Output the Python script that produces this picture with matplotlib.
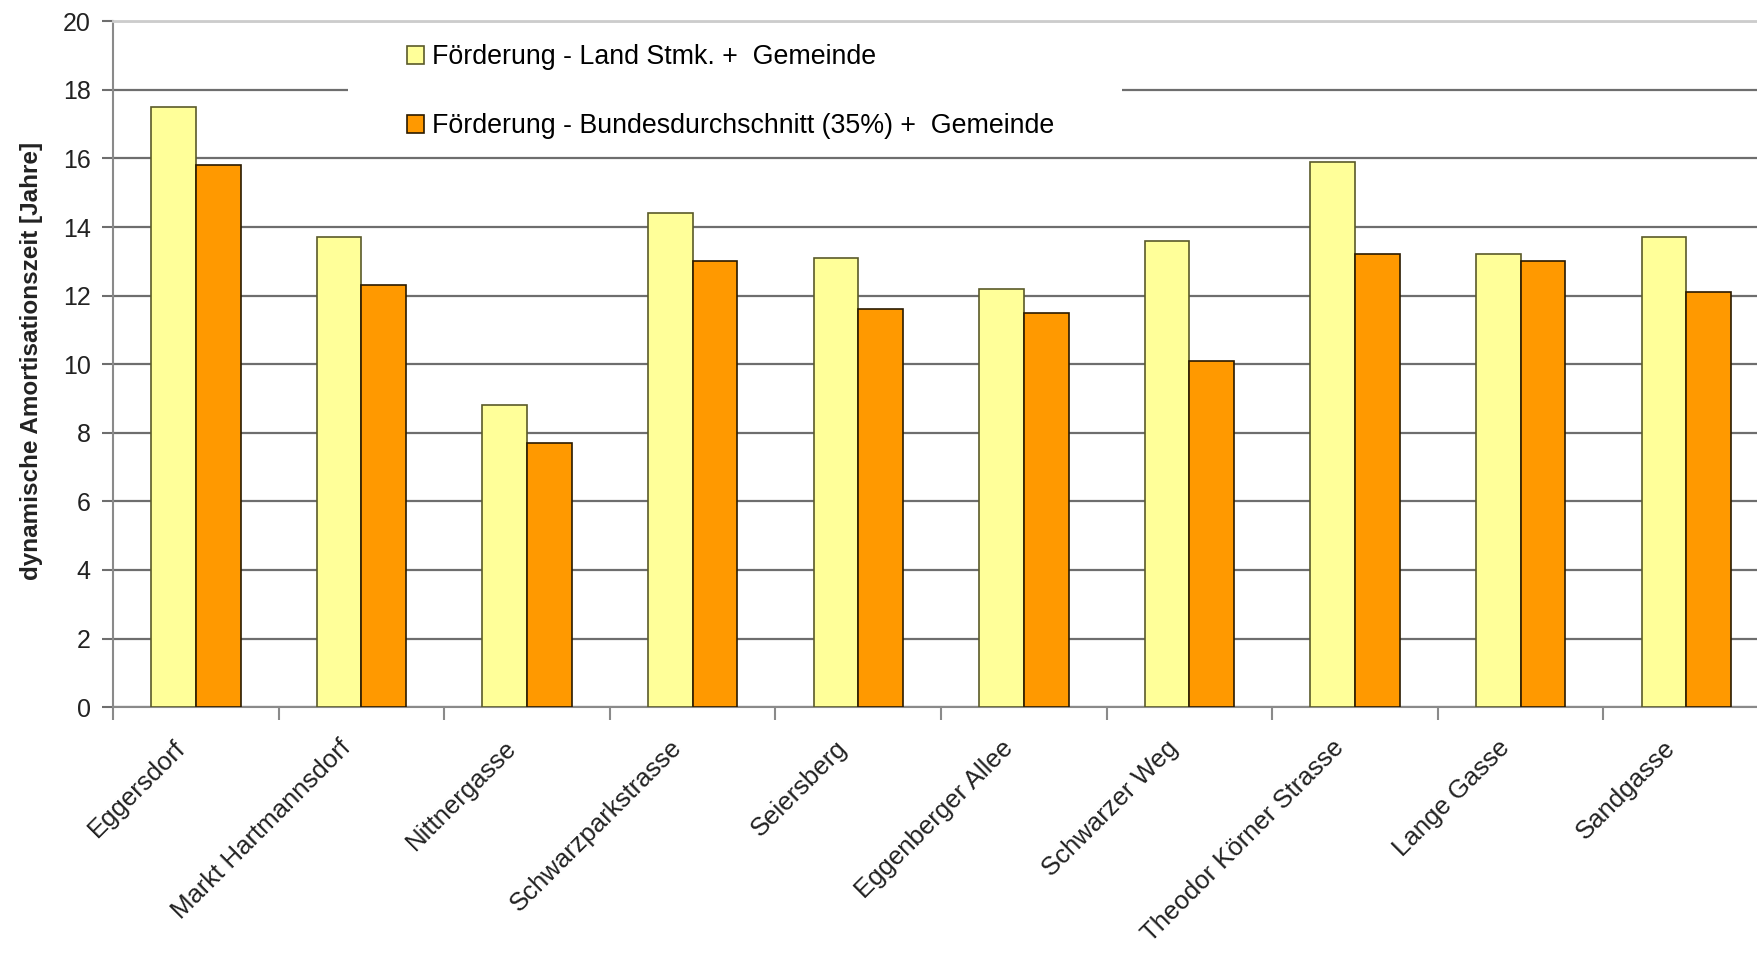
import numpy as np
import matplotlib
matplotlib.use("Agg")
import matplotlib.pyplot as plt
import matplotlib.transforms as mtransforms
from matplotlib.patches import Rectangle

plt.rcParams["font.family"] = ["Liberation Sans", "DejaVu Sans"]

standorte = [
    "Eggersdorf", "Markt Hartmannsdorf", "Nittnergasse", "Schwarzparkstrasse",
    "Seiersberg", "Eggenberger Allee", "Schwarzer Weg", "Theodor Körner Strasse",
    "Lange Gasse", "Sandgasse",
]
land_stmk = [17.5, 13.7, 8.8, 14.4, 13.1, 12.2, 13.6, 15.9, 13.2, 13.7]
bund_35 = [15.8, 12.3, 7.7, 13.0, 11.6, 11.5, 10.1, 13.2, 13.0, 12.1]

label_land = "Förderung - Land Stmk. +  Gemeinde"
label_bund = "Förderung - Bundesdurchschnitt (35%) +  Gemeinde"

fig = plt.figure(figsize=(17.58, 9.66), dpi=100)
ax = fig.add_axes([0.0643, 0.268, 0.942, 0.71])

x = np.arange(len(standorte))
w = 0.27
ax.bar(x - w / 2, land_stmk, w, color="#FFFF99", edgecolor="#5a5a2a",
       linewidth=1.2, label=label_land, zorder=3)
ax.bar(x + w / 2, bund_35, w, color="#FF9900", edgecolor="#2a1a00",
       linewidth=1.2, label=label_bund, zorder=3)

ax.set_xlim(-0.5, len(standorte) - 0.5)
ax.set_ylim(0, 20)
ax.set_yticks(np.arange(0, 21, 2))
ax.yaxis.grid(True, color="#6e6e6e", linewidth=1.6, zorder=0)
ax.set_axisbelow(True)

# category labels centred, tick marks on the category boundaries
ax.set_xticks(x)
ax.set_xticklabels(standorte, rotation=45, ha="right", va="top",
                   rotation_mode="anchor", fontsize=18.5, color="#222222")
ax.tick_params(axis="x", which="major", length=0, pad=14)
shift = mtransforms.ScaledTranslation(-0.23, -0.09, fig.dpi_scale_trans)
for lbl in ax.get_xticklabels():
    lbl.set_transform(lbl.get_transform() + shift)
ax.set_xticks(np.arange(-0.5, len(standorte)), minor=True)
ax.tick_params(axis="x", which="minor", length=9, width=1.5, color="#8a8a8a")
ax.tick_params(axis="y", length=8, width=1.5, color="#6e6e6e",
               labelsize=18, labelcolor="#222222", pad=8)

ax.spines["right"].set_visible(False)
ax.spines["top"].set_color("#cccccc")
ax.spines["top"].set_linewidth(2)
for side in ["left", "bottom"]:
    ax.spines[side].set_color("#8a8a8a")
    ax.spines[side].set_linewidth(1.5)

ax.set_ylabel("dynamische Amortisationszeit [Jahre]", fontsize=17.5,
              fontweight="bold", color="#222222")
ax.yaxis.set_label_coords(-0.0423, 0.505)

# white area behind the legend hides that part of the 18-year gridline
xy_trans = mtransforms.blended_transform_factory(ax.transAxes, ax.transData)
ax.add_patch(Rectangle((0.142, 16.6), 0.467, 2.9, transform=xy_trans,
                       facecolor="white", edgecolor="none", zorder=1))

ax.legend(loc="center left", bbox_to_anchor=(0.1775, 17.95),
          bbox_transform=xy_trans, fontsize=19.3, frameon=False,
          handlelength=0.65, handleheight=0.65, handletextpad=0.3,
          labelspacing=1.6, borderpad=0, borderaxespad=0)

fig.savefig("out.png", dpi=100)
